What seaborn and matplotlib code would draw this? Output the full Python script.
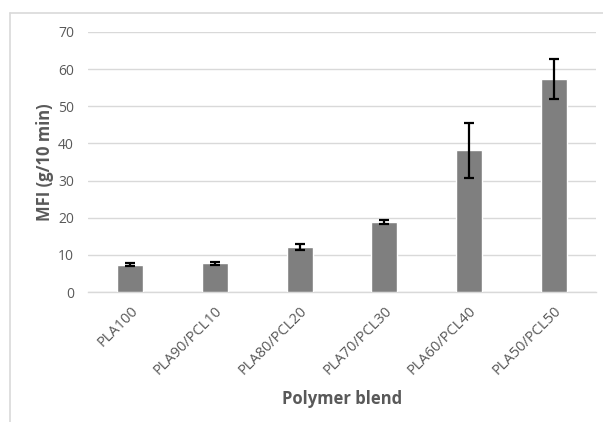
import matplotlib
matplotlib.use("Agg")
import matplotlib.pyplot as plt
from matplotlib.lines import Line2D
import seaborn as sns
import pandas as pd

# Melt flow index of PLA/PCL blends
blends = ["PLA100", "PLA90/PCL10", "PLA80/PCL20", "PLA70/PCL30", "PLA60/PCL40", "PLA50/PCL50"]
mfi = [7.4, 7.7, 12.1, 18.9, 38.1, 57.3]
mfi_sd = [0.35, 0.35, 0.8, 0.6, 7.3, 5.4]
y_ticks = [0, 10, 20, 30, 40, 50, 60, 70]

df = pd.DataFrame({"blend": blends, "mfi": mfi, "sd": mfi_sd})

sns.set_theme(style="white")
plt.rcParams["font.family"] = ["Open Sans", "DejaVu Sans"]

W, H = 603, 422
fig = plt.figure(figsize=(W / 100, H / 100), dpi=100)
ax = fig.add_axes([88 / W, (H - 292) / H, (596 - 88) / W, 260 / H])

sns.barplot(data=df, x="blend", y="mfi", color="#7f7f7f", saturation=1,
            width=0.31, errorbar=None, ax=ax, zorder=3)
ax.errorbar(x=range(len(blends)), y=df["mfi"], yerr=df["sd"], fmt="none",
            ecolor="black", elinewidth=1.6, capsize=3.5, capthick=1.6, zorder=4)

ax.set_ylim(0, 70)
ax.set_xlim(-0.5, len(blends) - 0.5)
ax.set_yticks(y_ticks)
ax.yaxis.grid(True, color="#d9d9d9", linewidth=1, zorder=0)
ax.set_axisbelow(True)
for s in ["top", "right", "left"]:
    ax.spines[s].set_visible(False)
ax.spines["bottom"].set_color("#d9d9d9")
ax.spines["bottom"].set_linewidth(1)

ax.tick_params(axis="both", length=0, labelcolor="#595959")
ax.tick_params(axis="y", pad=10, labelsize=10)
ax.tick_params(axis="x", pad=8, labelsize=10.5)
plt.setp(ax.get_xticklabels(), rotation=45, ha="right", rotation_mode="anchor")
ax.set_xlabel("Polymer blend", fontsize=12, fontweight="bold", color="#595959", labelpad=9)
ax.set_ylabel("MFI (g/10 min)", fontsize=12, fontweight="bold", color="#595959", labelpad=3)

# chart-area border
fig.add_artist(Line2D([10 / W, 1], [1 - 13 / H, 1 - 13 / H], color="#d9d9d9", lw=1.2,
                      transform=fig.transFigure))
fig.add_artist(Line2D([10 / W, 10 / W], [0, 1 - 13 / H], color="#d9d9d9", lw=1.2,
                      transform=fig.transFigure))

fig.savefig("out.png", dpi=100, facecolor="white")
